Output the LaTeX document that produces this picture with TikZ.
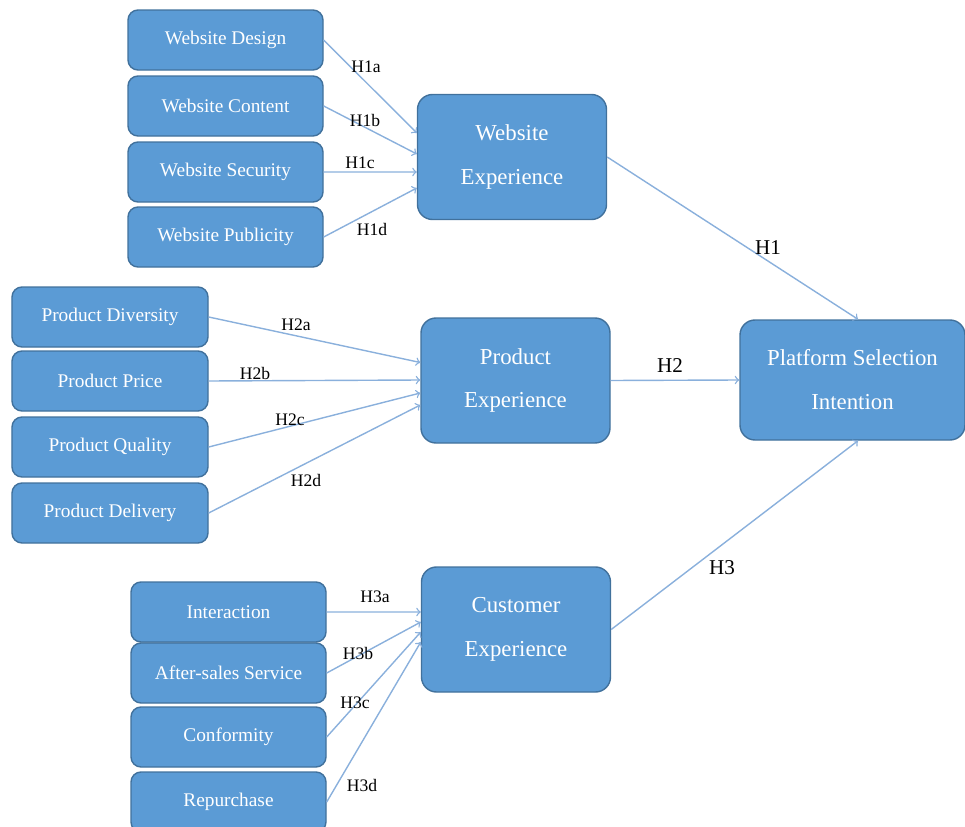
\documentclass[tikz,border=0pt]{standalone}
\usepackage{fontspec}
\setmainfont{Liberation Serif}
\usepackage{tikz}
\usetikzlibrary{arrows}
\definecolor{boxblue}{HTML}{5B9BD5}
\definecolor{boxedge}{HTML}{41719C}
\definecolor{linkblue}{HTML}{8AB0DC}

\begin{document}
\begin{tikzpicture}
		\tikzstyle{Small}=[draw=boxedge,line width=0.8pt,fill=boxblue,rounded corners=0.2cm,text=white,font=\fontsize{11}{13}\selectfont,minimum width=3.9cm,minimum height=1.2cm]
		\tikzstyle{Big}=[draw=boxedge,line width=0.8pt,fill=boxblue,rounded corners=0.3cm,text=white,font=\fontsize{13}{25}\selectfont,align=center,minimum width=3.78cm,minimum height=2.5cm]
		\tikzstyle{Link}=[->,draw=linkblue,line width=0.8pt]
		\tikzstyle{Hyp}=[font=\fontsize{10}{12}\selectfont]
		\tikzstyle{MainHyp}=[font=\fontsize{12}{14}\selectfont]
		\useasboundingbox (0,0) rectangle (19.3,-16.54);
		%  website block
		\node[Small] (WD) at (4.51,-0.80) {Website Design};
		\node[Small] (WC) at (4.51,-2.12) {Website Content};
		\node[Small] (WS) at (4.51,-3.44) {Website Security};
		\node[Small] (WP) at (4.51,-4.74) {Website Publicity};
		\node[Big] (WE) at (10.24,-3.14) {Website\\Experience};
		%  product block
		\node[Small,minimum width=3.92cm] (PD) at (2.2,-6.34) {Product Diversity};
		\node[Small,minimum width=3.92cm] (PP) at (2.2,-7.62) {Product Price};
		\node[Small,minimum width=3.92cm] (PQ) at (2.2,-8.94) {Product Quality};
		\node[Small,minimum width=3.92cm] (PL) at (2.2,-10.26) {Product Delivery};
		\node[Big] (PE) at (10.31,-7.61) {Product\\Experience};
		%  customer block
		\node[Small] (CI) at (4.57,-12.24) {Interaction};
		\node[Small] (CA) at (4.57,-13.46) {After-sales Service};
		\node[Small] (CC) at (4.57,-14.74) {Conformity};
		\node[Small] (CR) at (4.57,-16.04) {Repurchase};
		\node[Big] (CE) at (10.32,-12.59) {Customer\\Experience};
		\node[Big,minimum width=4.5cm,minimum height=2.4cm] (PS) at (17.05,-7.6) {Platform Selection\\Intention};
		\draw[Link] (WD.east) -- ([yshift=0.48cm]WE.west);
		\draw[Link] (WC.east) -- ([yshift=0.06cm]WE.west);
		\draw[Link] (WS.east) -- ([yshift=-0.3cm]WE.west);
		\draw[Link] (WP.east) -- ([yshift=-0.62cm]WE.west);
		\draw[Link] (PD.east) -- ([yshift=0.36cm]PE.west);
		\draw[Link] (PP.east) -- ([yshift=0.01cm]PE.west);
		\draw[Link] (PQ.east) -- ([yshift=-0.25cm]PE.west);
		\draw[Link] (PL.east) -- ([yshift=-0.49cm]PE.west);
		\draw[Link] (CI.east) -- ([yshift=0.35cm]CE.west);
		\draw[Link] (CA.east) -- ([yshift=0.15cm]CE.west);
		\draw[Link] (CC.east) -- ([yshift=-0.05cm]CE.west);
		\draw[Link] (CR.east) -- ([yshift=-0.25cm]CE.west);
		\draw[Link] (WE.east) -- ([xshift=0.11cm]PS.north);
		\draw[Link] (PE.east) -- (PS.west);
		\draw[Link] (CE.east) -- ([xshift=0.11cm]PS.south);
		\node[Hyp] (h1a) at (7.32,-1.34) {H1a};
		\node[Hyp] (h1b) at (7.30,-2.40) {H1b};
		\node[Hyp] (h1c) at (7.20,-3.26) {H1c};
		\node[Hyp] (h1d) at (7.44,-4.58) {H1d};
		\node[Hyp] (h2a) at (5.92,-6.50) {H2a};
		\node[Hyp] (h2b) at (5.10,-7.46) {H2b};
		\node[Hyp] (h2c) at (5.80,-8.40) {H2c};
		\node[Hyp] (h2d) at (6.12,-9.60) {H2d};
		\node[Hyp] (h3a) at (7.50,-11.94) {H3a};
		\node[Hyp] (h3b) at (7.16,-13.06) {H3b};
		\node[Hyp] (h3c) at (7.10,-14.06) {H3c};
		\node[Hyp] (h3d) at (7.24,-15.70) {H3d};
		\node[MainHyp] (h1) at (15.36,-4.96) {H1};
		\node[MainHyp] (h2) at (13.40,-7.32) {H2};
		\node[MainHyp] (h3) at (14.44,-11.36) {H3};
\end{tikzpicture}
\end{document}
